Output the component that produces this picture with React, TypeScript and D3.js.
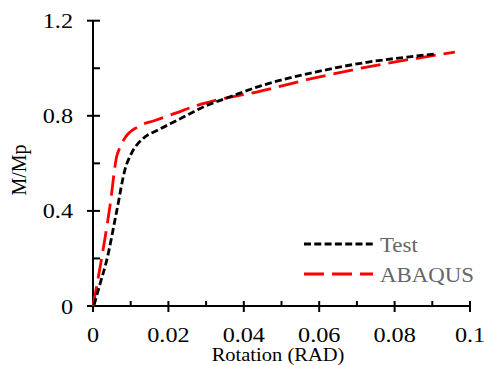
import * as d3 from "d3";
import { useEffect, useRef } from "react";

// Test (rotation, M/Mp)
const testRotation = [0.0003, 0.002, 0.0036, 0.0063, 0.0085, 0.0102, 0.0133, 0.0172, 0.0225, 0.0296, 0.035, 0.0443, 0.0593, 0.0726, 0.085, 0.0907];
const testMoment = [0.005, 0.1, 0.19, 0.4, 0.575, 0.642, 0.705, 0.74, 0.782, 0.84, 0.872, 0.925, 0.985, 1.025, 1.05, 1.06];

// ABAQUS (rotation, M/Mp)
const abaqusRotation = [0, 0.0019, 0.0045, 0.0063, 0.0071, 0.0084, 0.0119, 0.0164, 0.0217, 0.0279, 0.0328, 0.0434, 0.0576, 0.0726, 0.0859, 0.096];
const abaqusMoment = [0, 0.165, 0.42, 0.63, 0.665, 0.705, 0.754, 0.78, 0.81, 0.845, 0.866, 0.9, 0.955, 1.005, 1.042, 1.068];

const xMajor = [0, 0.02, 0.04, 0.06, 0.08, 0.1];
const xMinor = [0.01, 0.03, 0.05, 0.07, 0.09];
const yMajor = [0, 0.4, 0.8, 1.2];
const yMinor = [0.2, 0.6, 1.0];

const FONT = "Liberation Serif";
const TEST_DASH = "7,3.3";
const ABAQUS_DASH = "20,8";

export default function App() {
  const ref = useRef<SVGSVGElement | null>(null);

  useEffect(() => {
    if (!ref.current) return;
    const svg = d3.select(ref.current);
    svg.selectAll("*").remove();

    const x = d3.scaleLinear().domain([0, 0.1]).range([93, 470]);
    const y = d3.scaleLinear().domain([0, 1.2]).range([306, 20.7]);

    const g = svg.append("g");

    // axes lines
    g.append("line")
      .attr("x1", x(0)).attr("x2", x(0.1))
      .attr("y1", y(0)).attr("y2", y(0))
      .attr("stroke", "#000").attr("stroke-width", 2);
    g.append("line")
      .attr("x1", x(0)).attr("x2", x(0))
      .attr("y1", y(0)).attr("y2", y(1.2))
      .attr("stroke", "#000").attr("stroke-width", 2);

    // x ticks
    g.selectAll("line.xmaj").data(xMajor).enter().append("line")
      .attr("x1", (d) => x(d)).attr("x2", (d) => x(d))
      .attr("y1", y(0) - 5).attr("y2", y(0) + 6)
      .attr("stroke", "#000").attr("stroke-width", 2);
    g.selectAll("line.xmin").data(xMinor).enter().append("line")
      .attr("x1", (d) => x(d)).attr("x2", (d) => x(d))
      .attr("y1", y(0) - 5).attr("y2", y(0))
      .attr("stroke", "#000").attr("stroke-width", 2);

    // y ticks
    g.selectAll("line.ymaj").data(yMajor).enter().append("line")
      .attr("x1", x(0) - 6).attr("x2", x(0) + 7)
      .attr("y1", (d) => y(d)).attr("y2", (d) => y(d))
      .attr("stroke", "#000").attr("stroke-width", 2);
    g.selectAll("line.ymin").data(yMinor).enter().append("line")
      .attr("x1", x(0)).attr("x2", x(0) + 7)
      .attr("y1", (d) => y(d)).attr("y2", (d) => y(d))
      .attr("stroke", "#000").attr("stroke-width", 2);

    // tick labels
    g.selectAll("text.xl").data(xMajor).enter().append("text")
      .attr("transform", (d) => `translate(${x(d)},342) scale(1.1,1)`)
      .attr("text-anchor", "middle")
      .style("font-family", FONT).style("font-size", "22px")
      .text((d) => (d === 0 ? "0" : String(d)));
    g.selectAll("text.yl").data(yMajor).enter().append("text")
      .attr("transform", (d) => `translate(73,${y(d) + 7.5}) scale(1.1,1)`)
      .attr("text-anchor", "end")
      .style("font-family", FONT).style("font-size", "22px")
      .text((d) => (d === 0 ? "0" : d.toFixed(1)));

    // axis titles
    g.append("text")
      .attr("transform", "translate(278,361) scale(1.08,1)")
      .attr("text-anchor", "middle")
      .style("font-family", FONT).style("font-size", "19px")
      .text("Rotation (RAD)");
    g.append("text")
      .attr("transform", "translate(26,170) rotate(-90)")
      .attr("text-anchor", "middle")
      .style("font-family", FONT).style("font-size", "20px")
      .text("M/Mp");

    const line = d3
      .line<[number, number]>()
      .x((d) => x(d[0]))
      .y((d) => y(d[1]))
      .curve(d3.curveMonotoneX);

    const testData = testRotation.map((r, i) => [r, testMoment[i]] as [number, number]);
    const abaqusData = abaqusRotation.map((r, i) => [r, abaqusMoment[i]] as [number, number]);

    g.append("path")
      .attr("d", line(abaqusData))
      .attr("fill", "none")
      .attr("stroke", "#ff0000")
      .attr("stroke-width", 2.8)
      .attr("stroke-dasharray", ABAQUS_DASH);
    g.append("path")
      .attr("d", line(testData))
      .attr("fill", "none")
      .attr("stroke", "#000")
      .attr("stroke-width", 2.8)
      .attr("stroke-dasharray", TEST_DASH);

    // legend
    const legend = [
      { name: "Test", color: "#000", dash: TEST_DASH, y: 244 },
      { name: "ABAQUS", color: "#ff0000", dash: ABAQUS_DASH, y: 274 },
    ];
    legend.forEach((l) => {
      g.append("line")
        .attr("x1", 304).attr("x2", 373)
        .attr("y1", l.y).attr("y2", l.y)
        .attr("stroke", l.color).attr("stroke-width", 2.8)
        .attr("stroke-dasharray", l.dash);
      g.append("text")
        .attr("transform", `translate(380,${l.y + 8}) scale(1.04,1)`)
        .style("font-family", FONT).style("font-size", "22px")
        .style("fill", "#666")
        .text(l.name);
    });
  }, []);

  return (
    <svg
      ref={ref}
      width={484}
      height={365}
      style={{ position: "absolute", left: 0, top: 0, background: "#fff" }}
    />
  );
}
